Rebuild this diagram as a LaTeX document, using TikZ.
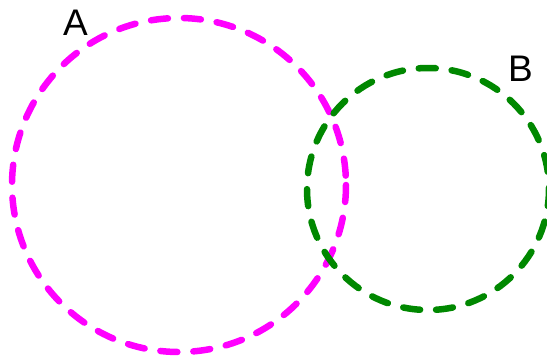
\documentclass[tikz,border=0pt]{standalone}
\usepackage{fontspec}
\setmainfont{Liberation Sans}
\definecolor{mag}{RGB}{255,0,255}
\definecolor{grn}{RGB}{0,136,0}
\begin{document}
\begin{tikzpicture}[x=1pt,y=-1pt,
  ring/.style={line width=6.5pt,line cap=round,dash pattern=on 17pt off 16pt},
  lbl/.style={font=\fontsize{37}{37}\selectfont,inner sep=0pt}]
\useasboundingbox (0,0) rectangle (547,356);
\coordinate (ca) at (179,185);
\coordinate (cb) at (428,189);
\draw[ring,mag] (ca) circle[radius=167];
\draw[ring,grn] (cb) circle[radius=121];
\node[lbl] (la) at (75.5,23) {A};
\node[lbl] (lb) at (520.5,68.5) {B};
\end{tikzpicture}
\end{document}
